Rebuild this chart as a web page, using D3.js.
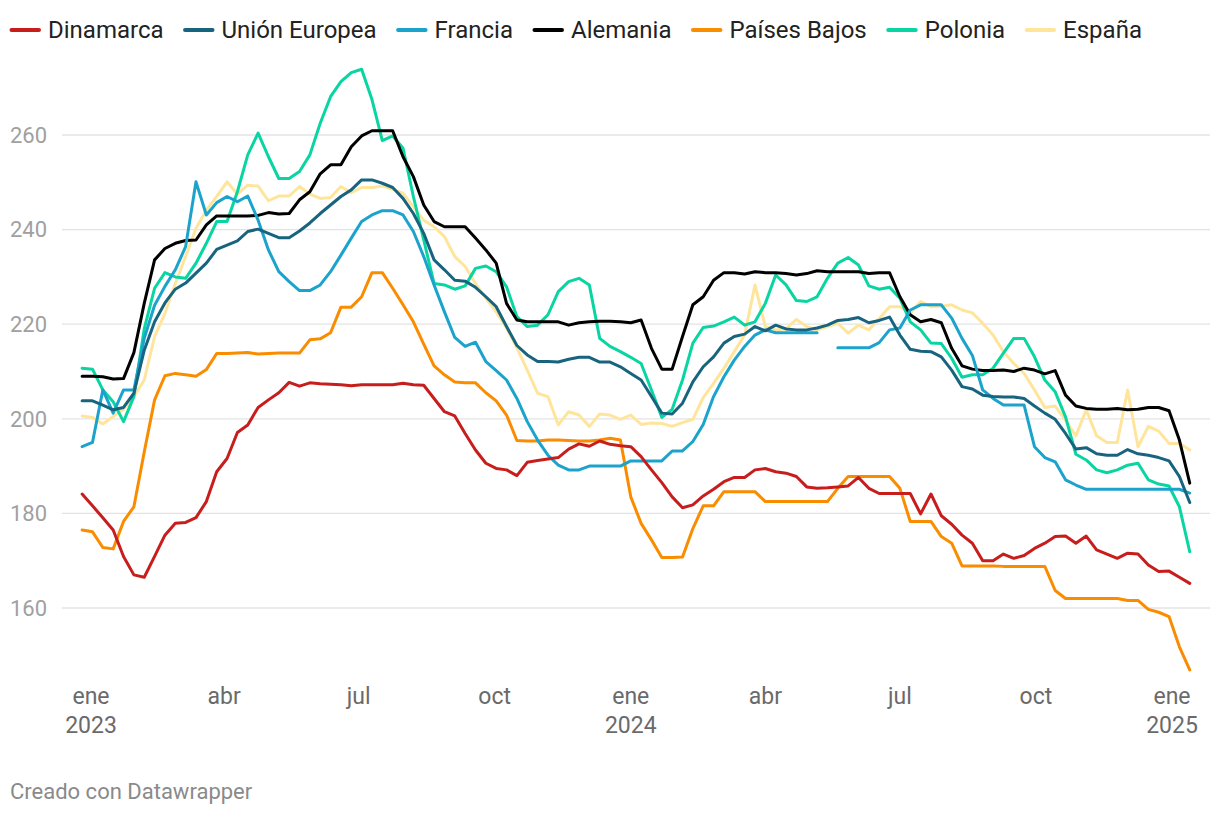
<!DOCTYPE html>
<html>
<head>
<meta charset="utf-8">
<script src="https://cdn.jsdelivr.net/npm/d3@7"></script>
<style>
  body { margin: 0; background: #fff; font-family: Roboto, "Noto Sans", sans-serif; }
  .grid line { stroke: #e3e3e3; stroke-width: 1.3; }
  .ylab { fill: #a0a0a0; font-size: 22px; }
  .xlab { fill: #6a6a6a; font-size: 23px; }
  .leg { fill: #222; font-size: 24px; }
  .credit { fill: #8a8a8a; font-size: 22px; }
</style>
</head>
<body>
<svg id="chart" width="1220" height="816"></svg>
<script>
// weekly values, starting the week of 26 Dec 2022
const startDate = new Date(2022, 11, 26);

const dinamarca = [184.1,181.6,179.1,176.5,170.9,167.0,166.5,170.9,175.4,177.9,178.1,179.1,182.5,188.8,191.6,197.1,198.7,202.4,204.0,205.5,
  207.7,206.9,207.6,207.4,207.3,207.2,207.0,207.2,207.2,207.2,207.2,207.5,207.2,207.1,204.3,201.5,200.6,196.9,193.4,190.6,
  189.5,189.2,188.0,190.8,191.2,191.5,191.8,193.6,194.7,194.2,195.3,194.6,194.3,194.1,192.0,189.2,186.5,183.5,181.2,181.8,
  183.7,185.1,186.7,187.6,187.6,189.2,189.5,188.8,188.5,187.8,185.6,185.3,185.4,185.6,185.8,187.6,185.3,184.2,184.2,184.2,
  184.2,179.9,184.1,179.5,177.7,175.4,173.7,170.0,170.0,171.4,170.5,171.1,172.6,173.7,175.1,175.2,173.7,175.2,172.3,171.4,
  170.5,171.6,171.4,169.1,167.7,167.8,166.5,165.2];

const unionEuropea = [203.8,203.8,202.9,201.9,202.4,205.4,214.5,220.5,224.5,227.4,228.7,230.8,232.9,235.8,236.7,237.6,239.6,240.1,239.2,238.3,
  238.3,239.7,241.4,243.4,245.2,247.0,248.4,250.5,250.5,249.8,248.9,246.6,243.4,239.2,233.6,231.5,229.3,229.1,227.8,225.8,
  223.7,219.5,215.5,213.5,212.1,212.1,212.0,212.6,213.0,213.0,212.0,212.0,211.0,209.6,208.2,204.7,201.2,201.0,203.3,207.8,
  211.0,213.1,216.0,217.4,217.9,219.5,218.6,219.8,219.0,218.8,218.8,219.2,219.8,220.8,221.0,221.4,220.3,220.8,221.5,217.7,
  214.7,214.3,214.2,213.1,210.3,206.8,206.3,205.0,204.7,204.6,204.6,204.3,202.7,201.2,199.9,196.9,193.6,193.9,192.6,192.3,
  192.3,193.5,192.6,192.3,191.8,191.1,187.8,182.3];

const francia = [194.1,195.0,206.1,201.2,206.1,206.1,217.0,224.0,228.0,231.5,236.4,250.1,243.1,245.7,247.0,245.9,247.1,242.0,235.7,231.1,
  229.0,227.1,227.1,228.3,231.1,234.6,238.2,241.7,243.1,244.0,244.0,243.1,239.6,234.3,228.3,222.6,217.2,215.3,216.2,212.1,
  210.2,208.2,204.3,199.4,195.5,192.3,190.2,189.2,189.2,190.0,190.0,190.0,190.0,191.1,191.1,191.1,191.1,193.2,193.2,195.2,
  198.8,204.7,208.9,212.4,215.3,217.7,218.8,218.2,218.2,218.2,218.2,218.2,null,215.0,215.0,215.0,215.0,216.1,218.8,219.2,
  223.0,224.1,224.1,224.1,221.3,217.0,213.4,206.1,204.3,202.9,202.9,202.9,194.1,191.8,190.9,187.1,186.0,185.1,185.1,185.1,
  185.1,185.1,185.1,185.1,185.1,185.1,185.1,184.3];

const alemania = [209.0,209.0,208.9,208.4,208.5,214.0,224.4,233.6,236.0,237.1,237.7,237.8,241.0,242.9,242.9,242.9,242.9,243.0,243.6,243.3,
  243.4,246.3,248.0,251.8,253.7,253.7,257.5,259.8,260.9,260.9,260.9,255.4,251.2,245.2,241.7,240.6,240.6,240.6,238.2,235.7,
  232.9,224.4,220.9,220.5,220.5,220.5,220.5,219.8,220.3,220.5,220.6,220.6,220.5,220.3,220.9,214.9,210.5,210.5,217.4,224.1,
  225.8,229.3,230.9,230.9,230.6,231.1,230.9,230.9,230.7,230.4,230.7,231.3,231.1,231.1,231.1,231.1,230.7,230.9,230.9,225.8,
  222.0,220.5,221.0,220.3,214.9,211.2,210.5,210.2,210.2,210.3,210.0,210.7,210.3,209.5,210.2,205.0,202.7,202.2,202.0,202.0,
  202.2,201.9,202.0,202.4,202.4,201.7,195.5,186.4];

const paisesBajos = [176.5,176.1,172.8,172.5,178.3,181.4,193.0,204.0,209.1,209.6,209.3,209.0,210.4,213.8,213.8,213.9,214.0,213.7,213.8,213.9,
  213.9,213.9,216.7,216.9,218.2,223.6,223.6,225.8,230.9,230.9,227.6,224.1,220.5,215.8,211.2,209.3,207.8,207.6,207.6,205.5,
  203.8,200.8,195.4,195.3,195.3,195.5,195.5,195.4,195.3,195.3,195.5,195.9,195.5,183.5,177.9,174.4,170.7,170.7,170.8,176.8,
  181.6,181.6,184.6,184.6,184.6,184.6,182.5,182.5,182.5,182.5,182.5,182.5,182.5,185.3,187.8,187.8,187.8,187.8,187.8,185.3,
  178.3,178.3,178.3,175.1,173.7,168.9,168.9,168.9,168.9,168.8,168.8,168.8,168.8,168.8,163.7,162.0,162.0,162.0,162.0,162.0,
  162.0,161.6,161.6,159.7,159.1,158.2,151.8,146.9];

const polonia = [210.7,210.5,206.1,203.6,199.4,204.7,219.0,227.6,230.9,230.0,229.7,232.9,237.1,241.7,241.7,248.0,255.8,260.4,255.4,250.8,
  250.8,252.3,255.8,262.5,268.1,271.3,273.2,273.9,267.5,258.8,259.8,257.2,247.0,237.8,228.6,228.3,227.4,228.1,231.8,232.3,
  231.1,227.9,221.6,219.5,219.8,222.0,226.9,229.0,229.7,228.3,217.0,215.3,214.2,213.0,211.7,206.1,200.3,202.0,208.2,216.0,
  219.3,219.6,220.5,221.5,219.8,220.5,224.4,230.4,228.3,225.0,224.8,225.8,229.7,232.9,234.1,232.5,228.1,227.4,227.8,225.5,
  220.5,218.8,216.0,215.9,212.8,208.8,209.3,209.3,210.7,213.9,217.0,217.0,213.1,208.2,205.7,200.4,192.5,191.3,189.2,188.6,
  189.2,190.2,190.6,187.1,186.2,185.8,181.4,171.9];

const espana = [200.6,200.3,198.9,200.5,202.0,204.7,208.2,217.4,222.3,228.6,234.3,240.3,244.1,247.0,250.1,247.5,249.4,249.2,246.1,247.1,
  247.1,249.1,247.5,246.6,246.8,249.1,247.8,248.9,248.9,249.2,248.5,247.7,244.8,242.0,240.6,238.5,234.3,232.2,228.6,225.5,
  222.6,219.2,215.0,210.3,205.4,204.7,198.7,201.5,200.8,198.4,201.0,200.8,199.9,200.8,198.8,199.1,199.0,198.4,199.2,199.9,
  204.5,207.5,210.7,214.2,217.7,228.3,219.5,218.8,219.0,221.0,219.5,218.8,219.5,220.2,218.1,219.8,218.8,221.2,223.7,223.7,
  222.3,224.8,223.7,223.8,224.1,223.0,222.4,220.2,217.7,214.2,211.7,209.6,206.1,202.4,202.7,199.7,196.4,201.9,196.4,195.0,
  195.0,206.1,194.1,198.4,197.4,194.8,194.8,193.4];

const seriesNames = ["Dinamarca", "Unión Europea", "Francia", "Alemania", "Países Bajos", "Polonia", "España"];
const seriesValues = [dinamarca, unionEuropea, francia, alemania, paisesBajos, polonia, espana];
const seriesColors = ["#c71e1d", "#18647e", "#1ba3cc", "#000000", "#fa8c00", "#09d5a2", "#ffe59c"];

const yTicks = [160, 180, 200, 220, 240, 260];
const xTickDates = [new Date(2023,0,1), new Date(2023,3,1), new Date(2023,6,1), new Date(2023,9,1),
  new Date(2024,0,1), new Date(2024,3,1), new Date(2024,6,1), new Date(2024,9,1), new Date(2025,0,1)];
const xTickLabels = [["ene","2023"],["abr"],["jul"],["oct"],["ene","2024"],["abr"],["jul"],["oct"],["ene","2025"]];

const svg = d3.select("#chart");

const x = d3.scaleTime()
  .domain([new Date(2023,0,1), new Date(2025,0,1)])
  .range([91, 1172]);
const y = d3.scaleLinear()
  .domain([160, 260])
  .range([608, 135]);

// gridlines + y labels
const grid = svg.append("g").attr("class", "grid");
grid.selectAll("line").data(yTicks).enter().append("line")
  .attr("x1", 62).attr("x2", 1210)
  .attr("y1", d => y(d)).attr("y2", d => y(d));
svg.append("g").selectAll("text").data(yTicks).enter().append("text")
  .attr("class", "ylab")
  .attr("x", 10)
  .attr("y", d => y(d))
  .attr("dy", "0.35em")
  .text(d => d);

// x labels
const xl = svg.append("g").selectAll("g").data(xTickDates).enter().append("text")
  .attr("class", "xlab")
  .attr("text-anchor", "middle")
  .attr("x", d => x(d))
  .attr("y", 704);
xl.each(function(d, i) {
  const t = d3.select(this);
  xTickLabels[i].forEach((s, j) => {
    t.append("tspan").attr("x", x(d)).attr("dy", j === 0 ? 0 : 29).text(s);
  });
});

// lines, last series drawn first so Dinamarca sits on top
const weekDate = i => d3.timeDay.offset(startDate, i * 7);
const line = d3.line()
  .defined(d => d != null)
  .x((d, i) => x(weekDate(i)))
  .y(d => y(d));

const order = d3.range(seriesValues.length).reverse();
svg.append("g").selectAll("path").data(order).enter().append("path")
  .attr("fill", "none")
  .attr("stroke", k => seriesColors[k])
  .attr("stroke-width", 3)
  .attr("stroke-linejoin", "round")
  .attr("stroke-linecap", "round")
  .attr("d", k => line(seriesValues[k]));

// legend
const leg = svg.append("g");
let lx = 10;
seriesNames.forEach((name, k) => {
  leg.append("line")
    .attr("x1", lx + 1.5).attr("x2", lx + 29)
    .attr("y1", 30).attr("y2", 30)
    .attr("stroke", seriesColors[k])
    .attr("stroke-width", 4)
    .attr("stroke-linecap", "round");
  const t = leg.append("text")
    .attr("class", "leg")
    .attr("x", lx + 38)
    .attr("y", 30)
    .attr("dy", "0.35em")
    .text(name);
  lx += 38 + t.node().getComputedTextLength() + 20;
});

svg.append("text")
  .attr("class", "credit")
  .attr("x", 10)
  .attr("y", 799)
  .text("Creado con Datawrapper");
</script>
</body>
</html>
